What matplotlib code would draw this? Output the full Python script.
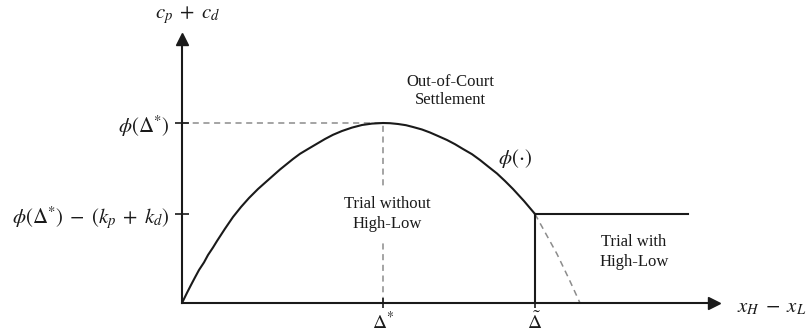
import matplotlib
matplotlib.use("Agg")
import matplotlib.pyplot as plt

plt.rcParams['font.family'] = ['Liberation Serif', 'DejaVu Serif']
plt.rcParams['mathtext.fontset'] = 'stix'

# === values (pixel offsets from the origin) ===
delta_star = 201      # x of the peak
delta_tilde = 353     # x where trial with high-low starts
phi_star = 180        # peak height
phi_low = 89          # phi(D*) - (kp + kd)
flat_end = 506        # end of the flat high-low line

curve_x = [0, 5, 9, 13, 17, 22, 26, 31, 35, 43, 51, 59, 67, 76, 85, 98, 111,
           118, 126, 135, 143, 151, 160, 170, 180, 190, 201,
           208, 216, 224, 231, 240, 248, 256, 265, 273, 281, 290, 298,
           306, 315, 323, 331, 342, 353]
curve_y = [0, 10.2, 18, 25.6, 33, 40.6, 48, 55.5, 62, 74.3, 86, 96, 105, 114, 122, 133.5, 144,
           149.2, 154, 159.3, 164, 168.2, 172, 175.4, 178, 179.4, 180,
           179.8, 179, 177.8, 176, 173.5, 170.5, 167, 163, 158.8, 154, 148.8, 143,
           136.6, 129.5, 122, 114, 102, 89]

# dashed continuation of phi past delta_tilde
tail_x = [353, 364, 375, 387, 398]
tail_y = [89, 69, 49, 24, 0]

xtick_labels = [r'$\Delta^{*}$', r'$\tilde{\Delta}$']
ytick_labels = [r'$\phi(\Delta^{*})\;-\;(k_p\;+\;k_d)$', r'$\phi(\Delta^{*})$']

ink = '#1a1a1a'
dash_col = '#8c8c8c'

fig = plt.figure(figsize=(8.11, 3.32), dpi=100)
ax = fig.add_axes([182 / 811, 29 / 332, 531.5 / 811, 264.5 / 332])
ax.set_xlim(0, 531.5)
ax.set_ylim(0, 264.5)

# === axes as arrows ===
for side in ['top', 'right']:
    ax.spines[side].set_visible(False)
for side in ['left', 'bottom']:
    ax.spines[side].set_linewidth(1.5)
    ax.spines[side].set_color(ink)
ax.plot(1, 0, '>', color=ink, ms=8, transform=ax.get_yaxis_transform(), clip_on=False)
ax.plot(0, 1, '^', color=ink, ms=8, transform=ax.get_xaxis_transform(), clip_on=False)

xticks = [delta_star, delta_tilde]
ax.set_xticks(xticks, labels=[])
ax.set_yticks([phi_low, phi_star], labels=ytick_labels)
ax.tick_params(direction='inout', width=1.2, color=ink, labelcolor=ink)
ax.tick_params(axis='x', length=7.5)
ax.tick_params(axis='y', length=9.4, labelsize=15, pad=4)

# x tick labels on a shared baseline so the tilde sits clear of the tick
for xv, lab in zip(xticks, xtick_labels):
    ax.text(xv, -0.098, lab, transform=ax.get_xaxis_transform(), ha='center',
            va='baseline', fontsize=14, color=ink, clip_on=False)

# === guide lines ===
ax.plot([0, delta_star], [phi_star, phi_star], ls=(0, (4, 3)), color=dash_col, lw=1.1, zorder=1)
ax.plot([delta_star, delta_star], [0, phi_star], ls=(0, (4, 3)), color=dash_col, lw=1.1, zorder=1)
ax.plot(tail_x, tail_y, ls=(0, (4, 3)), color=dash_col, lw=1.1, zorder=1)

# === phi curve and high-low pieces ===
ax.plot(curve_x, curve_y, color=ink, lw=1.5, solid_joinstyle='round', zorder=3)
ax.plot([delta_tilde, flat_end], [phi_low, phi_low], color=ink, lw=1.5, zorder=3)
ax.plot([delta_tilde, delta_tilde], [0, phi_low], color=ink, lw=1.5, zorder=3)

# === region labels ===
ax.text(268, 212, 'Out-of-Court\nSettlement', ha='center', va='center',
        fontsize=12, color=ink, linespacing=1.25)
ax.text(205, 89, 'Trial without\nHigh-Low', ha='center', va='center',
        fontsize=12, color=ink, linespacing=1.25, zorder=2,
        bbox=dict(boxstyle='square,pad=0.6', fc='white', ec='none'))
ax.text(452, 51, 'Trial with\nHigh-Low', ha='center', va='center',
        fontsize=12, color=ink, linespacing=1.25)
ax.text(333, 145, r'$\phi(\cdot)$', ha='center', va='center', fontsize=15, color=ink)

# axis names
ax.text(6, 288, r'$c_p\;+\;c_d$', ha='center', va='center', fontsize=15,
        color=ink, clip_on=False)
ax.text(590, -5, r'$x_H\;-\;x_L$', ha='center', va='center', fontsize=15,
        color=ink, clip_on=False)

fig.savefig('out.png', dpi=100)
